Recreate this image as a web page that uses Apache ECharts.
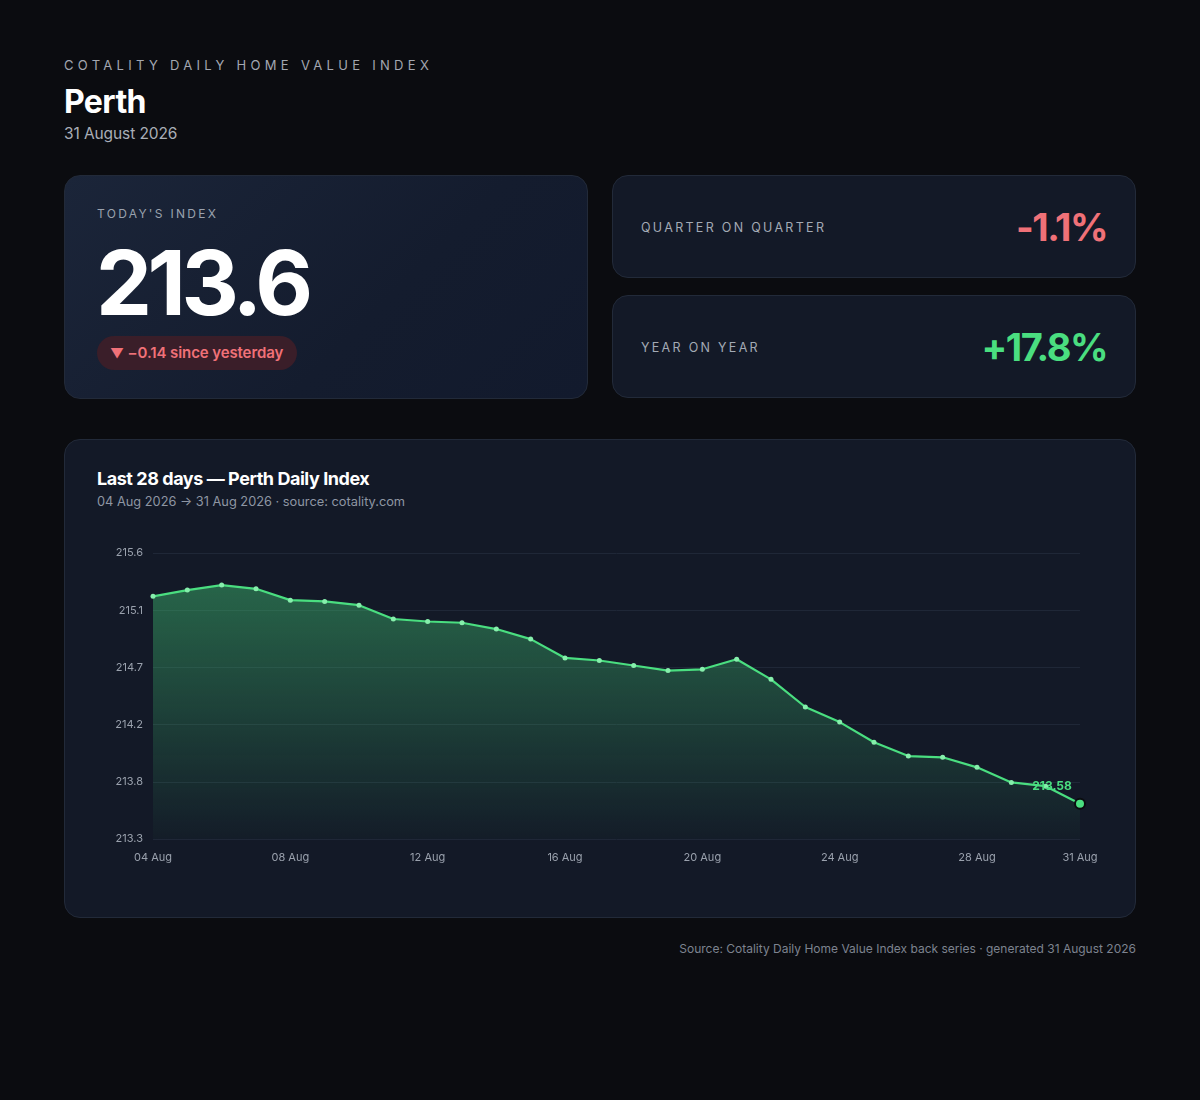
<!DOCTYPE html>
<html>
<head>
<meta charset="utf-8">
<script src="https://cdn.jsdelivr.net/npm/echarts@6/dist/echarts.min.js"></script>
<style>
  html, body { margin:0; padding:0; background:#0b0c10; }
  body { width:1200px; height:1100px; position:relative; font-family:Inter, "Noto Sans", sans-serif; color:#fff; overflow:hidden; }
  .kicker { position:absolute; left:64px; top:57px; font-size:13px; letter-spacing:4.3px; color:#a3a7b0; }
  .city { position:absolute; left:64px; top:82px; font-size:32px; font-weight:700; letter-spacing:-0.6px; }
  .date { position:absolute; left:64px; top:124px; font-size:15.5px; color:#a9aeb7; letter-spacing:-0.1px; }
  .card { position:absolute; box-sizing:border-box; border:1px solid #222a39; border-radius:16px; background:#131927; }
  .today { left:64px; top:175px; width:524px; height:224px; background:linear-gradient(135deg,#1b2539 0%,#141c2e 60%,#121a2d 100%); }
  .today .lbl { position:absolute; left:32px; top:30px; font-size:12px; letter-spacing:2.3px; color:#9aa2ae; }
  .today .big { position:absolute; left:31px; top:52px; font-size:89px; font-weight:700; letter-spacing:-4.5px; line-height:110px; }
  .pill { position:absolute; left:32px; top:160px; height:34px; padding:0 14px 0 13px; border-radius:17px; background:#3a1e29; color:#f07178; font-size:15px; font-weight:600; line-height:34px; letter-spacing:-0.1px; }
  .pill .tri { font-size:13.5px; }
  .stat { left:612px; width:524px; height:103px; }
  .stat .lbl { position:absolute; left:28px; top:44px; font-size:12.5px; letter-spacing:2.3px; color:#a3aab5; }
  .stat .val { position:absolute; right:28px; top:28px; font-size:38px; font-weight:700; letter-spacing:-1.5px; }
  .chartcard { left:64px; top:439px; width:1072px; height:479px; }
  .ctitle { position:absolute; left:32px; top:28px; font-size:18px; font-weight:700; letter-spacing:-0.45px; }
  .csub { position:absolute; left:32px; top:54px; font-size:12.8px; color:#8e96a3; }
  #chart { position:absolute; left:0px; top:90px; width:1070px; height:350px; }
  .foot { position:absolute; right:64px; top:941px; font-size:12px; color:#7d838f; }
</style>
</head>
<body>
<div class="kicker">COTALITY DAILY HOME VALUE INDEX</div>
<div class="city">Perth</div>
<div class="date">31 August 2026</div>

<div class="card today">
  <div class="lbl">TODAY'S INDEX</div>
  <div class="big">213.6</div>
  <div class="pill"><span class="tri">▼</span> −0.14 since yesterday</div>
</div>
<div class="card stat" style="top:175px;">
  <div class="lbl">QUARTER ON QUARTER</div>
  <div class="val" style="color:#f07178;">-1.1%</div>
</div>
<div class="card stat" style="top:295px;">
  <div class="lbl">YEAR ON YEAR</div>
  <div class="val" style="color:#4ade80;">+17.8%</div>
</div>

<div class="card chartcard">
  <div class="ctitle">Last 28 days — Perth Daily Index</div>
  <div class="csub">04 Aug 2026 → 31 Aug 2026 · source: cotality.com</div>
  <div id="chart"></div>
</div>

<div class="foot">Source: Cotality Daily Home Value Index back series · generated 31 August 2026</div>

<script>
// daily dates
var days = ['04 Aug','05 Aug','06 Aug','07 Aug','08 Aug','09 Aug','10 Aug','11 Aug','12 Aug','13 Aug',
            '14 Aug','15 Aug','16 Aug','17 Aug','18 Aug','19 Aug','20 Aug','21 Aug','22 Aug','23 Aug',
            '24 Aug','25 Aug','26 Aug','27 Aug','28 Aug','29 Aug','30 Aug','31 Aug'];
// index values
var indexValues = [215.23,215.28,215.32,215.29,215.20,215.19,215.16,215.05,215.03,215.02,
                   214.97,214.89,214.74,214.72,214.68,214.64,214.65,214.73,214.57,214.35,
                   214.23,214.07,213.96,213.95,213.87,213.75,213.72,213.58];
// x labels shown
var shownDays = ['04 Aug','08 Aug','12 Aug','16 Aug','20 Aug','24 Aug','28 Aug','31 Aug'];
// y axis range (ticks counted from min)
var yMin = 213.3, yStep = 0.455, yMax = 215.575;

var myChart = echarts.init(document.getElementById('chart'));

var seriesData = [];
for (var i = 0; i < indexValues.length; i++) {
    if (i === indexValues.length - 1) {
        seriesData.push({
            value: indexValues[i],
            symbolSize: 10,
            itemStyle: { color:'#4ade80', borderColor:'#0b0c10', borderWidth:2 },
            label: {
                show: true, position: 'top', offset: [-28, 0],
                formatter: function (p) { return p.value.toFixed(2); },
                color: '#4ade80', fontSize: 12, fontWeight: 'bold', fontFamily: 'Inter'
            }
        });
    } else {
        seriesData.push(indexValues[i]);
    }
}

var option = {
    animation: false,
    grid: { left: 88, right: 55, top: 23, bottom: 41 },
    xAxis: {
        type: 'category',
        data: days,
        boundaryGap: false,
        axisLine: { show: false },
        axisTick: { show: false },
        axisLabel: {
            color: '#9aa1ad', fontSize: 11, fontFamily: 'Inter', margin: 13,
            interval: function (idx, val) { return shownDays.indexOf(val) >= 0; }
        }
    },
    yAxis: {
        type: 'value',
        min: yMin, max: yMax, interval: yStep,
        axisLine: { show: false },
        axisTick: { show: false },
        splitLine: { lineStyle: { color: '#1f2737', width: 1 } },
        axisLabel: {
            color: '#9aa1ad', fontSize: 11, fontFamily: 'Inter', margin: 10,
            formatter: function (v) { return (Math.round(v * 10 + 1e-6) / 10).toFixed(1); }
        }
    },
    series: [{
        type: 'line',
        data: seriesData,
        symbol: 'circle',
        symbolSize: 5,
        showAllSymbol: true,
        itemStyle: { color: '#86efac' },
        lineStyle: { color: '#4ade80', width: 2.2 },
        areaStyle: {
            color: new echarts.graphic.LinearGradient(0, 0, 0, 1, [
                { offset: 0, color: 'rgba(66,200,118,0.62)' },
                { offset: 1, color: 'rgba(66,200,118,0.03)' }
            ])
        }
    }]
};
myChart.setOption(option);
</script>
</body>
</html>
